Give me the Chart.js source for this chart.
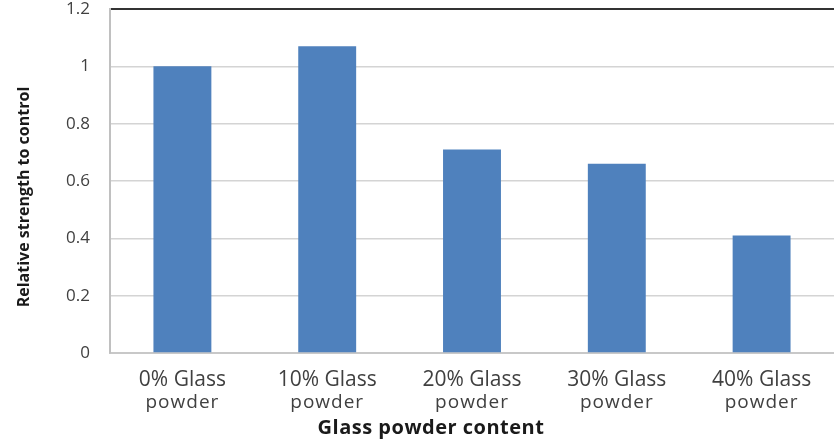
<!DOCTYPE html>
<html>
<head>
<meta charset="utf-8">
<script src="https://cdn.jsdelivr.net/npm/chart.js@4.4.1/dist/chart.umd.min.js"></script>
<style>
  html, body { margin: 0; padding: 0; background: #fff; }
  #wrap { width: 834px; height: 443px; }
</style>
</head>
<body>
<div id="wrap"><canvas id="strengthChart" width="834" height="443"></canvas></div>
<script>
// Relative compressive strength vs. glass powder replacement level
const contents = ['0% Glass', '10% Glass', '20% Glass', '30% Glass', '40% Glass'];
const contentSub = ['powder', 'powder', 'powder', 'powder', 'powder'];
const relStrength = [1.0, 1.07, 0.71, 0.66, 0.41];
const yTicks = [0, 0.2, 0.4, 0.6, 0.8, 1, 1.2];

const FONT = '"Open Sans", "DejaVu Sans", sans-serif';

// x labels (two sizes) and both axis titles
const axisText = {
    id: 'axisText',
    afterDraw(chart) {
        const ctx = chart.ctx;
        const x = chart.scales.x;
        const area = chart.chartArea;
        ctx.save();
        ctx.fillStyle = '#404040';
        ctx.textAlign = 'center';
        ctx.textBaseline = 'middle';
        contents.forEach((label, i) => {
            const px = x.getPixelForTick(i);
            ctx.letterSpacing = '0px';
            ctx.font = '21px ' + FONT;
            ctx.fillText(label, px, area.bottom + 27);
            ctx.letterSpacing = '1px';
            ctx.font = '19px ' + FONT;
            ctx.fillText(contentSub[i], px, area.bottom + 50);
        });

        ctx.fillStyle = '#1a1a1a';
        ctx.letterSpacing = '0.5px';
        ctx.font = 'bold 20px ' + FONT;
        ctx.fillText('Glass powder content', 431, area.bottom + 75);

        ctx.letterSpacing = '0px';
        ctx.translate(24, 197);
        ctx.rotate(-Math.PI / 2);
        ctx.font = 'bold 16px ' + FONT;
        ctx.fillText('Relative strength to control', 0, 0);
        ctx.restore();
    }
};

new Chart(document.getElementById('strengthChart'), {
    type: 'bar',
    data: {
        labels: contents,
        datasets: [{
            data: relStrength,
            backgroundColor: '#4f81bd',
            borderWidth: 0,
            categoryPercentage: 1.0,
            barPercentage: 0.4
        }]
    },
    options: {
        responsive: false,
        animation: false,
        layout: { padding: { top: 9, right: 0, left: 0, bottom: 0 } },
        plugins: {
            legend: { display: false },
            tooltip: { enabled: false }
        },
        scales: {
            x: {
                grid: { display: false },
                border: { display: true, color: '#c8c8c8', width: 2 },
                ticks: { display: false },
                afterFit(scale) { scale.height = 90; }
            },
            y: {
                min: 0,
                max: 1.2,
                afterBuildTicks(scale) {
                    scale.ticks = yTicks.map(v => ({ value: v }));
                },
                grid: {
                    color: ctx => ctx.tick && ctx.tick.value === 1.2 ? '#333333' : '#d4d4d4',
                    lineWidth: ctx => ctx.tick && ctx.tick.value === 1.2 ? 2 : 1.5,
                    drawTicks: false
                },
                border: { display: true, color: '#c0c0c0', width: 2 },
                ticks: {
                    color: '#404040',
                    padding: 20,
                    font: { family: FONT, size: 17 },
                    callback: v => String(Math.round(v * 10) / 10)
                },
                afterFit(scale) {
                    scale.width = 110;
                    scale.paddingTop = 0;
                    scale.paddingBottom = 0;
                }
            }
        }
    },
    plugins: [axisText]
});
</script>
</body>
</html>
